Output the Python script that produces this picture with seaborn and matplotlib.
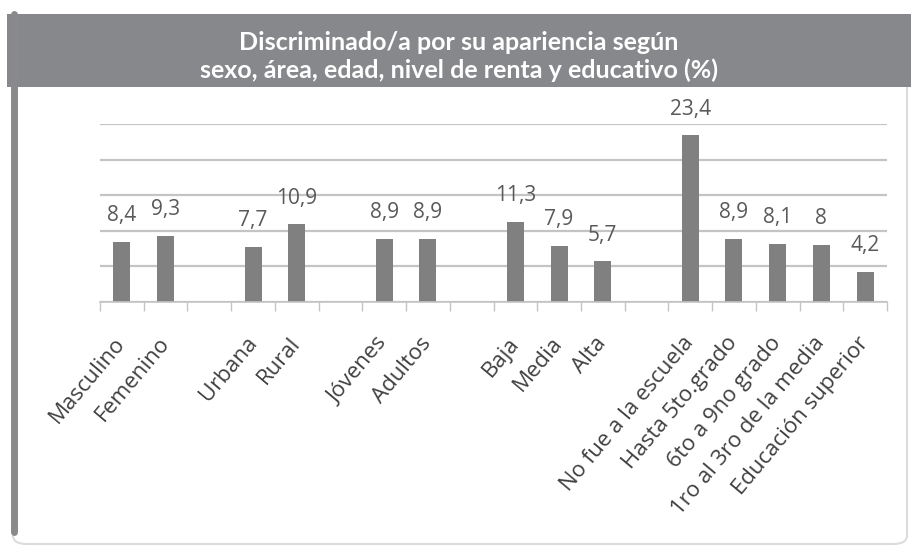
import numpy as np
import pandas as pd
import matplotlib
matplotlib.use("Agg")
import matplotlib.pyplot as plt
import seaborn as sns
from matplotlib.patches import Rectangle, FancyBboxPatch
from matplotlib.lines import Line2D
from matplotlib.ticker import FixedLocator

# Categories (blank entries separate the groups: sexo, área, edad, renta, educación)
categories = ["Masculino", "Femenino", "",
              "Urbana", "Rural", " ",
              "Jóvenes", "Adultos", "  ",
              "Baja", "Media", "Alta", "   ",
              "No fue a la escuela", "Hasta 5to.grado", "6to a 9no grado",
              "1ro al 3ro de la media", "Educación superior"]
values = [8.4, 9.3, np.nan,
          7.7, 10.9, np.nan,
          8.9, 8.9, np.nan,
          11.3, 7.9, 5.7, np.nan,
          23.4, 8.9, 8.1, 8.0, 4.2]
title_lines = ["Discriminado/a por su apariencia según",
               "sexo, área, edad, nivel de renta y educativo (%)"]

df = pd.DataFrame({"cat": categories, "val": values})

W, H = 911, 549
fig = plt.figure(figsize=(W / 100, H / 100), dpi=100)
fig.patch.set_facecolor("white")

# Plot area placed in pixel terms
x0, x1 = 100, 887
y_axis, y_top = 302, 124
ax = fig.add_axes([x0 / W, 1 - y_axis / H, (x1 - x0) / W, (y_axis - y_top) / H])

sns.barplot(data=df, x="cat", y="val", order=categories, color="#808080",
            saturation=1, width=0.39, ax=ax, edgecolor="none")

ax.set_ylim(0, 25)
ax.set_xlim(-0.5, len(categories) - 0.5)
ax.set_yticks([0, 5, 10, 15, 20, 25])
ax.yaxis.grid(True, color="#c4c4c4", linewidth=1.6)
ax.set_axisbelow(True)
ax.tick_params(axis="y", length=0, labelleft=False)
for s in ["top", "right", "left"]:
    ax.spines[s].set_visible(False)
ax.spines["bottom"].set_color("#c4c4c4")
ax.spines["bottom"].set_linewidth(1.2)
ax.set_xlabel("")
ax.set_ylabel("")

# Boundary tick marks between categories
ax.xaxis.set_minor_locator(FixedLocator(np.arange(-0.5, len(categories), 1.0)))
ax.tick_params(axis="x", which="minor", length=6.5, width=1.0, color="#c4c4c4")
ax.tick_params(axis="x", which="major", length=0, pad=27)
ax.set_xticks(range(len(categories)))
ax.set_xticklabels(categories, rotation=50, ha="right", va="center",
                   rotation_mode="anchor", fontsize=16, color="#404040",
                   family="Open Sans")

# Value labels above each bar
for i, v in enumerate(values):
    if np.isnan(v):
        continue
    txt = f"{v:g}".replace(".", ",")
    ax.annotate(txt, (i, v), xytext=(0, 19), textcoords="offset points",
                ha="center", va="center", fontsize=15, color="#595959",
                family="Open Sans", annotation_clip=False)

# Frame and title banner
def px(x, y):
    return x / W, 1 - y / H

frame = FancyBboxPatch(px(13, 544), (907 - 13) / W, (544 - 20) / H,
                       boxstyle="round,pad=0,rounding_size=0.015",
                       transform=fig.transFigure, facecolor="none",
                       edgecolor="#dcdcdc", linewidth=1.5, zorder=0)
fig.add_artist(frame)
fig.add_artist(Line2D([13.5 / W, 13.5 / W], [1 - 14 / H, 1 - 532 / H],
                      transform=fig.transFigure, color="#8a8a8c",
                      linewidth=5, solid_capstyle="round"))
fig.add_artist(Rectangle(px(7, 87), (911 - 7) / W, (87 - 14) / H,
                         transform=fig.transFigure, facecolor="#87888c",
                         edgecolor="none"))
fig.text(459 / W, 1 - 42 / H, title_lines[0], ha="center", va="center",
         color="white", fontsize=18, fontweight="bold", family="Lato")
fig.text(459 / W, 1 - 70 / H, title_lines[1], ha="center", va="center",
         color="white", fontsize=18, fontweight="bold", family="Lato")

fig.savefig("out.png", dpi=100, facecolor="white")
